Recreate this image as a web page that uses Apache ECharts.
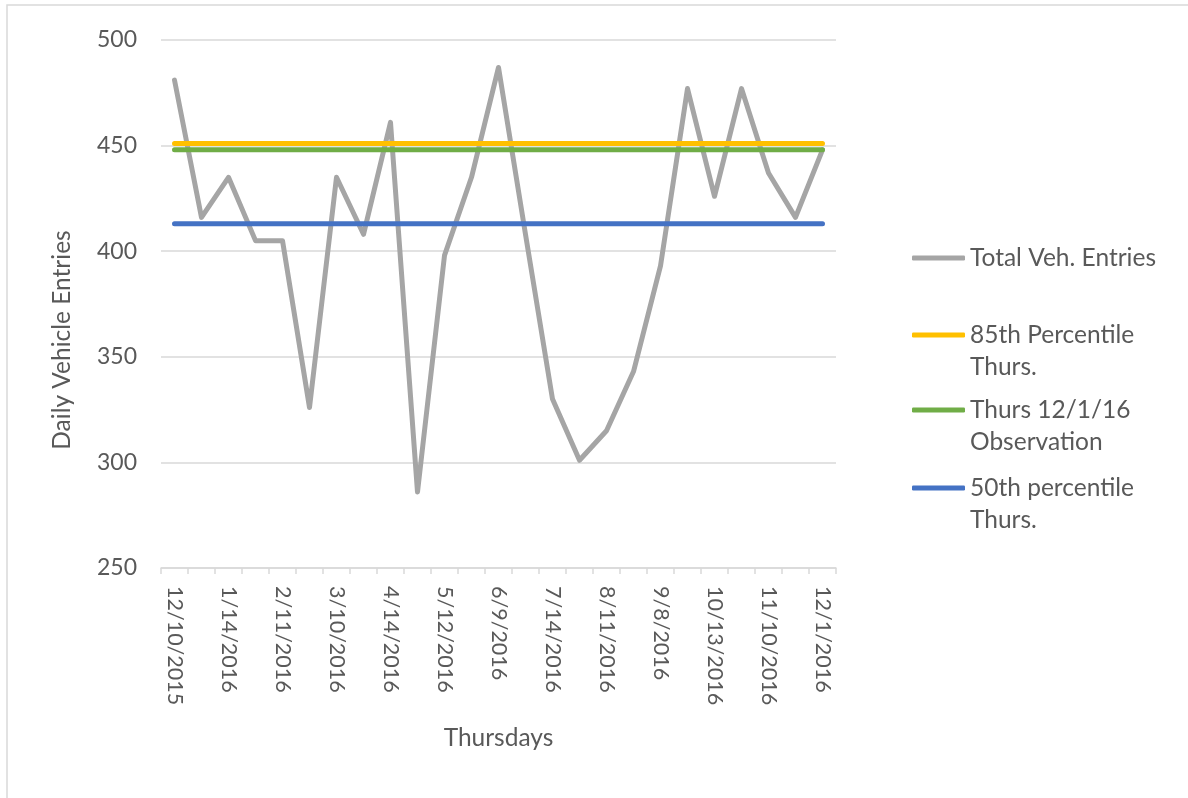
<!DOCTYPE html>
<html>
<head>
<meta charset="utf-8">
<script src="https://cdn.jsdelivr.net/npm/echarts@6/dist/echarts.min.js"></script>
<style>html,body{margin:0;padding:0;background:#fff;}#c{width:1188px;height:798px;}</style>
</head>
<body>
<div id="c"></div>
<script>
const categories = ['12/10/2015','12/24/2015','1/14/2016','1/28/2016','2/11/2016','2/25/2016','3/10/2016','3/24/2016','4/14/2016','4/28/2016','5/12/2016','5/26/2016','6/9/2016','6/23/2016','7/14/2016','7/28/2016','8/11/2016','8/25/2016','9/8/2016','9/22/2016','10/13/2016','10/27/2016','11/10/2016','11/24/2016','12/1/2016'];
const totalEntries = [481,416,435,405,405,326,435,408,461,286,398,435,487,408,330,301,315,343,393,477,426,477,437,416,448];
const p85 = 451;
const obs120116 = 448;
const p50 = 413;
const yTicks = [250, 500, 50];

const FONT = 'Lato';
const TXT = '#595959';
const GRID = '#d9d9d9';
const chart = echarts.init(document.getElementById('c'), null, {renderer: 'canvas'});

const constSeries = (name, v, color) => ({
  name, type: 'line', data: categories.map(() => v), symbol: 'none',
  lineStyle: {color, width: 5, cap: 'round'}, itemStyle: {color}, z: 3
});

const legendText = {fontFamily: FONT, fontSize: 24.5, color: TXT, lineHeight: 32};
const legendBase = {
  orient: 'vertical', left: 912, padding: 0, itemWidth: 53, itemHeight: 5, itemGap: 0,
  icon: 'roundRect', selectedMode: false, textStyle: legendText
};

chart.setOption({
  animation: false,
  backgroundColor: '#fff',
  graphic: [
    {type: 'polyline', shape: {points: [[7, 798], [7, 5], [1188, 5]]}, style: {stroke: GRID, lineWidth: 1.5, fill: null}, silent: true}
  ],
  grid: {left: 161, right: 352, top: 40, bottom: 230, containLabel: false},
  legend: [
    Object.assign({}, legendBase, {top: 242, data: ['Total Veh. Entries']}),
    Object.assign({}, legendBase, {top: 287, data: ['85th Percentile Thurs.'], formatter: () => '\n85th Percentile\nThurs.'}),
    Object.assign({}, legendBase, {top: 362, data: ['Thurs 12/1/16 Observation'], formatter: () => '\nThurs 12/1/16\nObservation'}),
    Object.assign({}, legendBase, {top: 440, data: ['50th percentile Thurs.'], formatter: () => '\n50th percentile\nThurs.'})
  ],
  xAxis: {
    type: 'category', data: categories, boundaryGap: true,
    name: 'Thursdays', nameLocation: 'middle', nameGap: 158,
    nameTextStyle: {fontFamily: FONT, fontSize: 24.5, color: TXT},
    axisLine: {show: true, lineStyle: {color: GRID, width: 1.5}},
    axisTick: {show: true, interval: 0, length: 6, lineStyle: {color: GRID, width: 1.5}},
    axisLabel: {interval: 1, rotate: -90, margin: 18, fontFamily: FONT, fontSize: 21.5, color: TXT},
    splitLine: {show: false}
  },
  yAxis: {
    type: 'value', min: yTicks[0], max: yTicks[1], interval: yTicks[2],
    name: 'Daily Vehicle Entries', nameLocation: 'middle', nameGap: 86, nameRotate: 90,
    nameTextStyle: {fontFamily: FONT, fontSize: 24.5, color: TXT, padding: [0, 72, 0, 0]},
    axisLine: {show: false}, axisTick: {show: false},
    axisLabel: {margin: 24, fontFamily: FONT, fontSize: 23, color: TXT},
    splitLine: {show: true, lineStyle: {color: GRID, width: 1.5}}
  },
  series: [
    {name: 'Total Veh. Entries', type: 'line', data: totalEntries, symbol: 'none',
      lineStyle: {color: '#a5a5a5', width: 5, cap: 'round', join: 'round'}, itemStyle: {color: '#a5a5a5'}, z: 2},
    constSeries('85th Percentile Thurs.', p85, '#ffc000'),
    constSeries('Thurs 12/1/16 Observation', obs120116, '#70ad47'),
    constSeries('50th percentile Thurs.', p50, '#4472c4')
  ]
});
</script>
</body>
</html>
